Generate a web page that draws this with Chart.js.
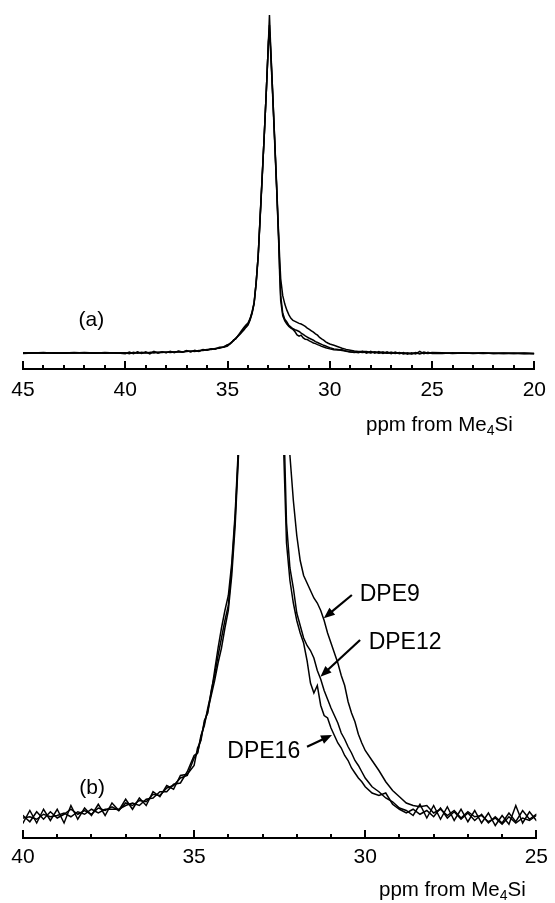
<!DOCTYPE html>
<html>
<head>
<meta charset="utf-8">
<script src="https://cdn.jsdelivr.net/npm/chart.js@4.4.1/dist/chart.umd.min.js"></script>
<style>
  html, body { margin: 0; padding: 0; background: #fff; }
  #wrap { position: relative; width: 555px; height: 903px; overflow: hidden; }
  canvas { position: absolute; left: 0; }
</style>
</head>
<body>
<div id="wrap">
  <canvas id="specA" width="555" height="450" style="top:0px"></canvas>
  <canvas id="specB" width="555" height="453" style="top:450px"></canvas>
</div>
<script>
// chemical shift grid (ppm), shared by the three spectra
const ppm = [
  45, 44.5, 44, 43.5, 43, 42.5, 42, 41.5, 41, 40.5,
  40, 39.8, 39.6, 39.4, 39.2, 39, 38.8, 38.6, 38.4, 38.2, 38, 37.8, 37.6, 37.4, 37.2,
  37, 36.8, 36.6, 36.4, 36.2, 36, 35.8, 35.6, 35.4, 35.2,
  35, 34.9, 34.8, 34.7, 34.6, 34.5, 34.4, 34.3, 34.2, 34.1, 34, 33.9, 33.8,
  33.7, 33.6, 33.5, 33.4, 33.3, 33.2, 33.1, 33, 32.95, 32.9, 32.8, 32.7, 32.6, 32.5, 32.45, 32.4,
  32.3, 32.2, 32.1, 32, 31.9, 31.8, 31.7, 31.6, 31.5, 31.4, 31.3, 31.2, 31.1, 31,
  30.9, 30.8, 30.7, 30.6, 30.5, 30.4, 30.3, 30.2, 30.1, 30, 29.8, 29.6, 29.4, 29.2, 29,
  28.8, 28.6, 28.4, 28.2, 28, 27.8, 27.6, 27.4, 27.2, 27, 26.8, 26.6, 26.4, 26.2, 26,
  25.8, 25.6, 25.4, 25.2, 25,
  24.5, 24, 23.5, 23, 22.5, 22, 21.5, 21, 20.5, 20
];

// intensities, peak of DPE9 = 100
const dpe9 = [
  0.1, 0, 0.15, -0.05, 0.1, 0, 0.15, 0.05, 0.1, 0,
  0.1, -0.15, 0.25, -0.05, 0.25, 0, 0.15, 0.35, 0.15, 0.3, 0.15, 0.4, 0.3, 0.45, 0.3,
  0.6, 0.5, 0.7, 0.65, 0.95, 0.9, 1.2, 1.3, 1.6, 1.7,
  2.4, 2.6, 3.3, 3.7, 4.4, 5.0, 5.9, 6.8, 7.6, 8.3, 8.9, 10.2, 12.2,
  15, 21, 29, 41, 53, 65, 78, 92, 100, 92, 78, 64, 50, 35, 28, 22,
  17, 14.5, 12.7, 11.3, 10.3, 9.7, 9.4, 9.1, 8.8, 8.6, 8.3, 7.9, 7.4, 7.0,
  6.6, 6.2, 5.7, 5.3, 4.65, 4.2, 3.85, 3.35, 3.0, 2.7, 2.3, 1.9, 1.45, 1.1, 0.85,
  0.6, 0.5, 0.45, 0.5, 0.2, 0.35, 0.1, 0.3, 0, 0.25, 0.05, 0.1, -0.15, 0, -0.25,
  0.05, -0.2, 0, -0.1, 0.1,
  0.05, -0.05, 0.1, -0.1, 0, -0.15, 0.05, -0.1, -0.05, -0.2
];

const dpe12 = [
  0, 0.1, -0.05, 0.1, 0, 0.15, 0, 0.1, -0.05, 0.1,
  -0.2, 0.3, -0.2, 0.35, -0.1, 0.35, -0.2, 0.5, -0.05, 0.4, 0.1, 0.55, 0.1, 0.6, 0.3,
  0.75, 0.35, 0.8, 0.5, 1.05, 0.85, 1.3, 1.15, 1.7, 1.75,
  2.1, 2.8, 3.1, 3.9, 4.2, 5.1, 5.7, 6.5, 7.2, 7.9, 8.5, 10.0, 12.0,
  14.8, 21, 29, 41, 53, 65, 78, 92, 97, 91, 78, 64, 49, 34, 25, 17,
  11.8, 10.0, 9.2, 8.2, 7.7, 7.2, 6.9, 6.7, 6.4, 5.9, 5.55, 5.1, 4.75, 4.4,
  4.1, 3.8, 3.4, 3.15, 2.85, 2.6, 2.3, 2.1, 1.85, 1.6, 1.25, 1.05, 0.8, 0.65, 0.4,
  0.3, 0.1, 0.55, 0, 0.5, -0.05, 0.45, -0.1, 0.35, -0.15, 0.3, -0.2, 0.2, -0.3, 0.1,
  -0.25, 0.5, -0.2, 0.25, -0.1,
  -0.1, 0.1, -0.05, 0.05, -0.15, 0, -0.1, 0, -0.2, -0.1
];

const dpe16 = [
  -0.1, 0.05, 0.1, 0, -0.05, 0.1, 0.05, -0.05, 0.15, 0.05,
  0, 0.05, -0.05, 0.15, 0.05, 0.1, 0.2, 0.05, 0.25, 0.15, 0.35, 0.2, 0.35, 0.35, 0.35,
  0.5, 0.6, 0.5, 0.75, 0.8, 1.05, 1.05, 1.35, 1.4, 1.85,
  2.5, 2.6, 3.2, 3.8, 4.3, 4.9, 5.5, 6.2, 6.8, 7.6, 8.3, 9.7, 11.7,
  14.6, 20.5, 28.5, 40.5, 52.5, 65, 78, 92, 95, 90, 77, 63, 49, 33, 23, 15.5,
  11.0, 9.5, 8.6, 7.9, 7.4, 7.0, 6.3, 5.4, 5.0, 5.3, 4.5, 4.1, 4.0, 3.6,
  3.3, 3.0, 2.8, 2.5, 2.3, 2.0, 1.8, 1.6, 1.45, 1.25, 1.0, 0.9, 1.0, 0.55, 0.35,
  0.2, 0.35, 0.15, 0.3, 0.05, 0.4, 0, 0.25, -0.05, 0.2, -0.1, 0.15, -0.2, 0.05, -0.2,
  0.2, -0.15, 0.3, -0.05, 0.15,
  0.1, -0.1, 0, -0.05, 0.1, -0.1, -0.05, -0.15, 0, -0.15
];

const seriesNames = ['DPE9', 'DPE12', 'DPE16'];
const seriesValues = [dpe9, dpe12, dpe16];

const FONT = '"Liberation Sans", Arial, Helvetica, sans-serif';

// short tick marks standing up from the axis line (major every 5 ppm)
const tickMarks = {
  id: 'tickMarks',
  afterDraw(chart) {
    const ctx = chart.ctx, xs = chart.scales.x, y0 = chart.chartArea.bottom;
    ctx.save();
    ctx.strokeStyle = '#000';
    ctx.lineWidth = 2;
    xs.ticks.forEach(t => {
      const px = Math.round(xs.getPixelForValue(t.value));
      const len = t.value % 5 === 0 ? 8 : 4;
      ctx.beginPath();
      ctx.moveTo(px, y0);
      ctx.lineTo(px, y0 - len);
      ctx.stroke();
    });
    ctx.restore();
  }
};

// panel letter, axis title, arrow labels
const notes = {
  id: 'notes',
  afterDraw(chart, args, opts) {
    const ctx = chart.ctx, xs = chart.scales.x, ys = chart.scales.y;
    const px = v => xs.getPixelForValue(v), py = v => ys.getPixelForValue(v);
    ctx.save();
    ctx.fillStyle = '#000';
    ctx.strokeStyle = '#000';
    ctx.textBaseline = 'middle';

    ctx.font = '21px ' + FONT;
    ctx.textAlign = 'center';
    ctx.fillText(opts.panel.text, px(opts.panel.at[0]), py(opts.panel.at[1]));

    // "ppm from Me4Si" with subscript
    const t = opts.title;
    ctx.textAlign = 'left';
    let x = t.x;
    ctx.font = '20.5px ' + FONT;
    ctx.fillText('ppm from Me', x, t.y);
    x += ctx.measureText('ppm from Me').width;
    ctx.font = '14px ' + FONT;
    ctx.fillText('4', x, t.y + 6);
    x += ctx.measureText('4').width;
    ctx.font = '20.5px ' + FONT;
    ctx.fillText('Si', x, t.y);

    (opts.arrows || []).forEach(a => {
      const x1 = px(a.tail[0]), y1 = py(a.tail[1]);
      const x2 = px(a.tip[0]), y2 = py(a.tip[1]);
      const ang = Math.atan2(y2 - y1, x2 - x1);
      const head = 11, half = 4.5;
      ctx.lineWidth = 2.2;
      ctx.beginPath();
      ctx.moveTo(x1, y1);
      ctx.lineTo(x2 - Math.cos(ang) * head * 0.8, y2 - Math.sin(ang) * head * 0.8);
      ctx.stroke();
      ctx.beginPath();
      ctx.moveTo(x2, y2);
      ctx.lineTo(x2 - Math.cos(ang) * head - Math.sin(ang) * half, y2 - Math.sin(ang) * head + Math.cos(ang) * half);
      ctx.lineTo(x2 - Math.cos(ang) * head + Math.sin(ang) * half, y2 - Math.sin(ang) * head - Math.cos(ang) * half);
      ctx.closePath();
      ctx.fill();
      ctx.font = '23px ' + FONT;
      ctx.textAlign = a.align;
      ctx.fillText(a.text, px(a.textAt[0]), py(a.textAt[1]));
    });
    ctx.restore();
  }
};

function makeChart(id, cfg) {
  return new Chart(document.getElementById(id), {
    type: 'line',
    data: {
      datasets: seriesValues.map((vals, k) => ({
        label: seriesNames[k],
        data: ppm.map((p, i) => ({ x: p, y: vals[i] })),
        borderColor: '#000',
        borderWidth: 1.5,
        pointRadius: 0,
        tension: 0,
        fill: false
      }))
    },
    options: {
      responsive: false,
      animation: false,
      devicePixelRatio: 1,
      layout: { padding: { left: 23, right: 14, top: cfg.padTop, bottom: 0 } },
      plugins: {
        legend: { display: false },
        tooltip: { enabled: false },
        notes: cfg.notes
      },
      scales: {
        x: {
          type: 'linear',
          reverse: true,
          min: cfg.xmin,
          max: cfg.xmax,
          afterFit: s => { s.height = cfg.axisHeight; },
          grid: { display: false, drawTicks: false },
          border: { display: true, color: '#000', width: 2 },
          ticks: {
            stepSize: 1,
            autoSkip: false,
            maxRotation: 0,
            padding: cfg.tickPad,
            color: '#000',
            font: { family: FONT, size: 21 },
            callback: v => (v % 5 === 0 ? String(v) : '')
          }
        },
        y: { display: false, min: cfg.ymin, max: cfg.ymax }
      }
    },
    plugins: [tickMarks, notes]
  });
}

makeChart('specA', {
  xmin: 20, xmax: 45, ymin: -4.7, ymax: 100,
  padTop: 15, axisHeight: 81, tickPad: 9,
  notes: {
    panel: { text: '(a)', at: [41.66, 9.8] },
    title: { x: 366, y: 425 }
  }
});

makeChart('specB', {
  xmin: 25, xmax: 40, ymin: -0.8, ymax: 14.52,
  padTop: 5, axisHeight: 65, tickPad: 7,
  notes: {
    panel: { text: '(b)', at: [37.98, 1.2] },
    title: { x: 379, y: 440 },
    arrows: [
      { text: 'DPE9', tip: [31.21, 7.99], tail: [30.39, 8.92], textAt: [30.16, 8.92], align: 'left' },
      { text: 'DPE12', tip: [31.31, 5.65], tail: [30.15, 7.12], textAt: [29.9, 7.0], align: 'left' },
      { text: 'DPE16', tip: [30.97, 3.32], tail: [31.7, 2.85], textAt: [31.9, 2.64], align: 'right' }
    ]
  }
});
</script>
</body>
</html>
